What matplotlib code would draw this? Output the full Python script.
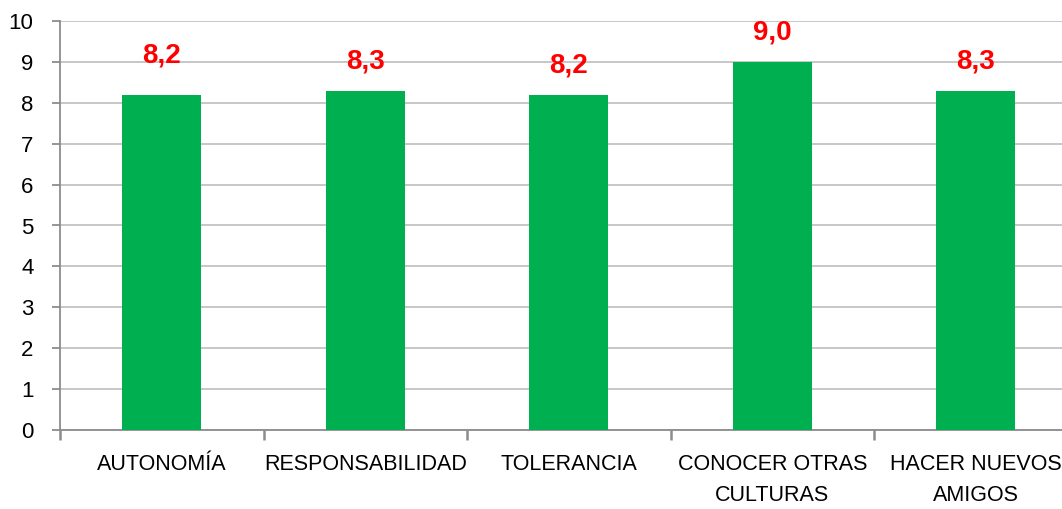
import matplotlib
matplotlib.use("Agg")
import matplotlib.pyplot as plt

categories = ["AUTONOMÍA", "RESPONSABILIDAD", "TOLERANCIA", "CONOCER OTRAS\nCULTURAS", "HACER NUEVOS\nAMIGOS"]
values = [8.2, 8.3, 8.2, 9.0, 8.3]
value_labels = ["8,2", "8,3", "8,2", "9,0", "8,3"]
yticks = list(range(0, 11))

# label offsets above bar tops (points) - style only
label_offsets = [28.5, 21, 21, 21, 21]

plt.rcParams['font.family'] = ['Liberation Sans', 'DejaVu Sans']

W, H = 1062, 509
fig = plt.figure(figsize=(W / 100, H / 100), dpi=100)
left, right = 60, 1077.5
bottom, top = 430, 21
ax = fig.add_axes([left / W, 1 - bottom / H, (right - left) / W, (bottom - top) / H])

x = list(range(len(categories)))
ax.bar(x, values, width=0.39, color="#00B050", zorder=3)
ax.set_xlim(-0.5, len(categories) - 0.5)
ax.set_ylim(0, 10)
ax.set_yticks(yticks)
ax.set_yticklabels([str(t) for t in yticks], fontsize=16)
ax.yaxis.grid(True, color="#BEBEBE", linewidth=1.2, zorder=0)

for s in ["top", "right"]:
    ax.spines[s].set_visible(False)
for s in ["left", "bottom"]:
    ax.spines[s].set_color("#8C8C8C")
    ax.spines[s].set_linewidth(1.3)

ax.tick_params(axis="y", length=6, width=1.3, color="#8C8C8C", pad=13)
# category boundary ticks
ax.set_xticks([i - 0.5 for i in range(len(categories) + 1)])
ax.set_xticklabels([])
ax.tick_params(axis="x", which="major", length=7, width=1.8, color="#8C8C8C", direction="out")
ax.set_xticks(x, minor=True)
ax.set_xticklabels(categories, minor=True, fontsize=15.5, linespacing=1.65)
ax.tick_params(axis="x", which="minor", length=0, pad=17)

for xi, v, t, off in zip(x, values, value_labels, label_offsets):
    ax.annotate(t, (xi, v), xytext=(0, off), textcoords="offset points",
                ha="center", va="center", color="#FF0000", fontsize=20, fontweight="bold")

fig.savefig("out.png", dpi=100)
